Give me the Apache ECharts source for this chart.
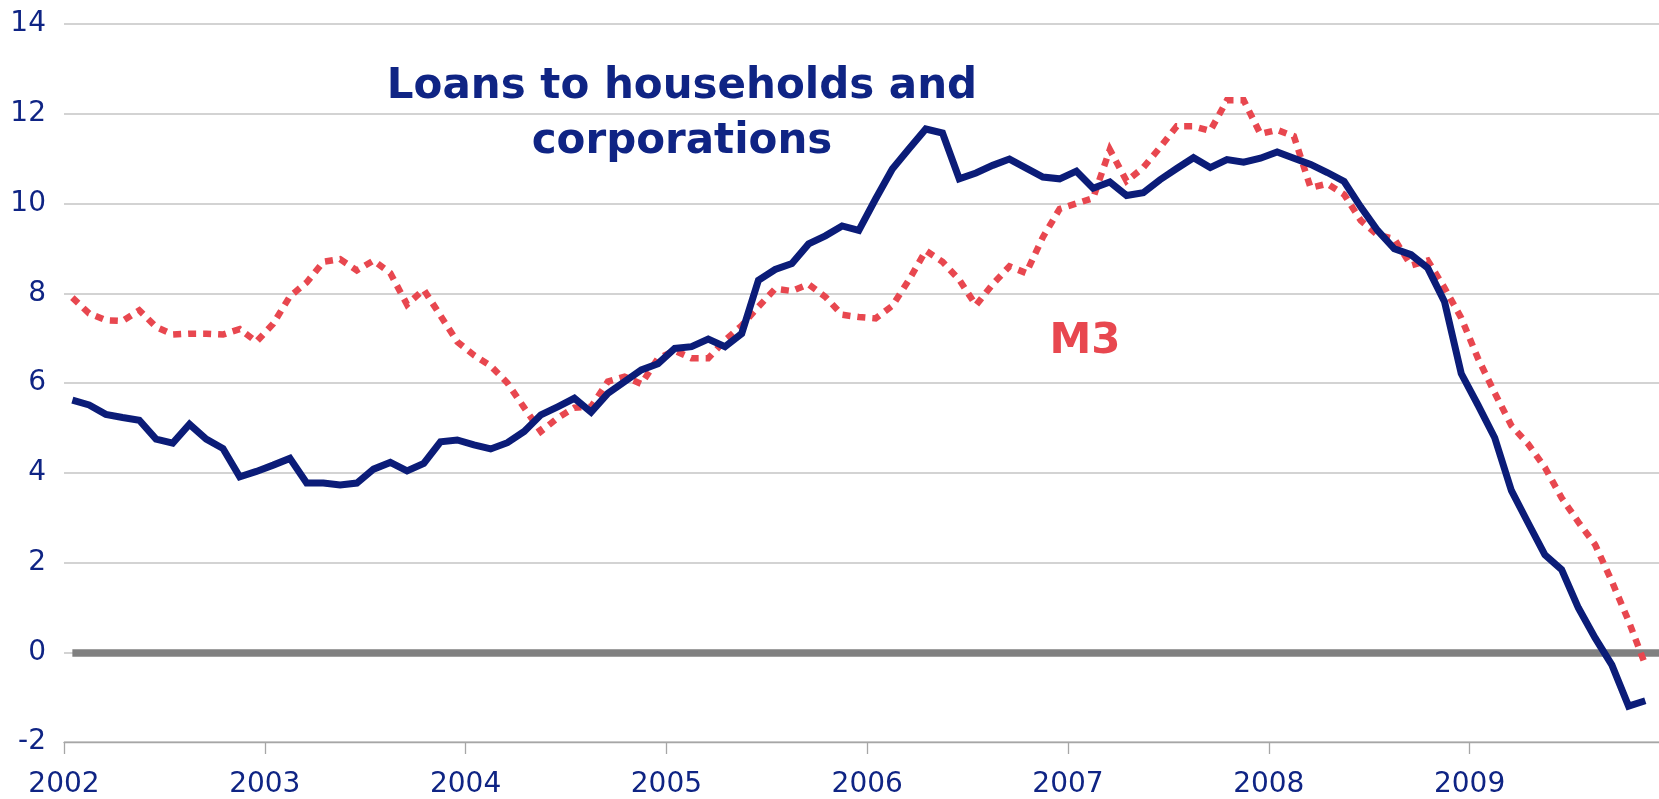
<!DOCTYPE html>
<html>
<head>
<meta charset="utf-8">
<style>
html,body{margin:0;padding:0;background:#fff;overflow:hidden;width:1659px;height:799px;}
#chart{width:1700px;height:799px;}
</style>
<script src="https://cdn.jsdelivr.net/npm/echarts@6/dist/echarts.min.js"></script>
</head>
<body>
<div id="chart"></div>
<script>
// Monthly data, January 2002 onwards (annual growth rates, %)
const startYear = 2002;
const yearLabels = [2002, 2003, 2004, 2005, 2006, 2007, 2008, 2009];
const loans = [
  5.62, 5.51, 5.30, 5.23, 5.17, 4.75, 4.66, 5.08, 4.75, 4.54, 3.91, 4.03,
  4.17, 4.32, 3.77, 3.77, 3.73, 3.77, 4.08, 4.23, 4.04, 4.21, 4.69, 4.73,
  4.62, 4.53, 4.67, 4.92, 5.29, 5.47, 5.66, 5.35, 5.77, 6.03, 6.29, 6.43,
  6.77, 6.81, 6.98, 6.81, 7.10, 8.29, 8.53, 8.66, 9.10, 9.28, 9.50, 9.40,
  10.10, 10.77, 11.22, 11.66, 11.57, 10.55, 10.68, 10.85, 10.99, 10.79, 10.59, 10.55,
  10.72, 10.34, 10.48, 10.18, 10.24, 10.53, 10.78, 11.02, 10.80, 10.98, 10.92, 11.01,
  11.15, 11.01, 10.87, 10.69, 10.49, 9.92, 9.40, 8.99, 8.86, 8.56, 7.81, 6.21,
  5.51, 4.78, 3.60, 2.88, 2.17, 1.84, 0.99, 0.32, -0.28, -1.20, -1.08
];
const m3 = [
  7.90, 7.55, 7.40, 7.38, 7.62, 7.25, 7.08, 7.10, 7.10, 7.08, 7.20, 6.92,
  7.32, 7.93, 8.24, 8.70, 8.76, 8.51, 8.73, 8.45, 7.75, 8.08, 7.50, 6.92,
  6.62, 6.38, 6.00, 5.45, 4.92, 5.22, 5.45, 5.47, 6.03, 6.14, 5.98, 6.55,
  6.72, 6.55, 6.55, 6.95, 7.28, 7.70, 8.10, 8.05, 8.20, 7.92, 7.52, 7.47,
  7.44, 7.72, 8.30, 8.95, 8.70, 8.30, 7.73, 8.20, 8.60, 8.45, 9.25, 9.88,
  10.00, 10.12, 11.20, 10.50, 10.80, 11.25, 11.72, 11.72, 11.62, 12.30, 12.30, 11.55,
  11.64, 11.50, 10.35, 10.44, 10.20, 9.62, 9.30, 9.21, 8.62, 8.73, 8.12, 7.45,
  6.55, 5.78, 5.05, 4.64, 4.12, 3.44, 2.90, 2.40, 1.58, 0.70, -0.28
];
const titleLines = ['Loans to households and', 'corporations'];
const seriesNames = ['Loans to households and corporations', 'M3'];

// month index -> mid-month position on a year scale
const monthPos = i => startYear + (i + 0.5) / 12;
const loansData = loans.map((v, i) => [monthPos(i), v]);
const m3Data = m3.map((v, i) => [monthPos(i), v]);

const navy = '#0b1c78';
const navyText = '#0f2484';
const red = '#e8474f';
const font = 'DejaVu Sans, Verdana, sans-serif';

const chart = echarts.init(document.getElementById('chart'), null, {renderer: 'canvas'});
chart.setOption({
  animation: false,
  backgroundColor: '#ffffff',
  grid: {left: 64, right: 29.6, top: 24, bottom: 55.3, containLabel: false},
  xAxis: {
    type: 'value',
    min: 2002, max: 2010, interval: 1,
    axisLine: {show: true, onZero: false, lineStyle: {color: '#a6a6a6', width: 1.3}},
    axisTick: {show: true, length: 12, lineStyle: {color: '#a6a6a6', width: 1.3}},
    splitLine: {show: false},
    axisLabel: {
      color: navyText, fontFamily: font, fontSize: 28, margin: 29,
      formatter: v => yearLabels.indexOf(Math.round(v)) >= 0 ? String(Math.round(v)) : ''
    }
  },
  yAxis: {
    type: 'value',
    min: -2, max: 14, interval: 2,
    axisLine: {show: false},
    axisTick: {show: false},
    splitLine: {show: true, lineStyle: {color: '#c4c4c4', width: 1.5}},
    axisLabel: {color: navyText, fontFamily: font, fontSize: 28, margin: 18}
  },
  series: [
    {
      name: seriesNames[1], type: 'line', data: m3Data,
      showSymbol: false, symbol: 'none', z: 3,
      lineStyle: {color: red, width: 6.5, type: [8, 7], cap: 'butt', join: 'miter'},
      markLine: {
        silent: true, symbol: 'none', z: 1, label: {show: false},
        lineStyle: {color: '#808080', width: 7.5, type: 'solid'},
        data: [[{coord: [monthPos(0), 0]}, {coord: [2010, 0]}]]
      }
    },
    {
      name: seriesNames[0], type: 'line', data: loansData,
      showSymbol: false, symbol: 'none', z: 4,
      lineStyle: {color: navy, width: 7, join: 'miter'}
    }
  ],
  graphic: [
    {type: 'text', x: 682, y: 87, z: 10,
      style: {text: titleLines[0], fill: navyText, font: 'bold 42px ' + font, textAlign: 'center', textVerticalAlign: 'middle'}},
    {type: 'text', x: 682, y: 142, z: 10,
      style: {text: titleLines[1], fill: navyText, font: 'bold 42px ' + font, textAlign: 'center', textVerticalAlign: 'middle'}},
    {type: 'text', x: 1085, y: 342, z: 10,
      style: {text: seriesNames[1], fill: red, font: 'bold 42px ' + font, textAlign: 'center', textVerticalAlign: 'middle'}}
  ]
});
</script>
</body>
</html>
